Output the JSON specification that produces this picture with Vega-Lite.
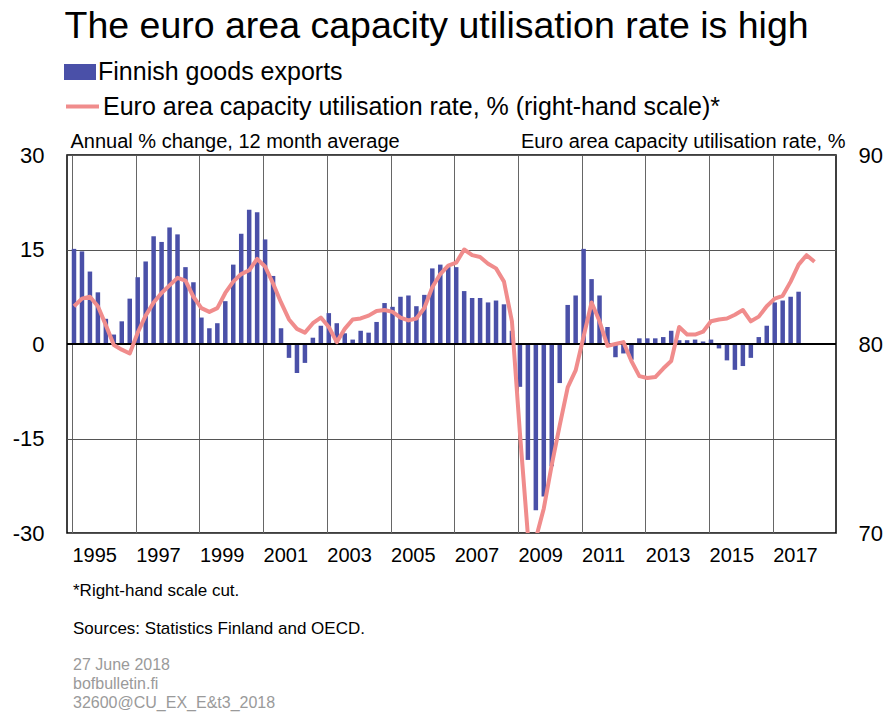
{
  "$schema": "https://vega.github.io/schema/vega-lite/v6.json",
  "autosize": {"type": "none"},
  "width": 769,
  "height": 378,
  "padding": {"left": 67, "top": 155, "right": 52, "bottom": 180},
  "background": "white",
  "config": {
    "font": "Liberation Sans",
    "view": {"stroke": "black", "strokeWidth": 1.5},
    "axis": {"labelColor": "black", "titleColor": "black", "labelFont": "Liberation Sans", "titleFont": "Liberation Sans", "titleFontWeight": "normal"},
    "legend": {"labelColor": "black", "labelFont": "Liberation Sans"}
  },
  "title": {
    "text": ["*Right-hand scale cut.", "Sources: Statistics Finland and OECD."],
    "subtitle": ["27 June 2018", "bofbulletin.fi", "32600@CU_EX_E&t3_2018"],
    "orient": "bottom",
    "anchor": "start",
    "frame": "group",
    "dx": 6,
    "offset": 18,
    "fontSize": 17,
    "fontWeight": "normal",
    "color": "black",
    "lineHeight": 38,
    "subtitleFontSize": 16,
    "subtitleColor": "#9a9a9a",
    "subtitleLineHeight": 19,
    "subtitlePadding": 19
  },
  "datasets": {
    "exports": [
      {"t": 1995.0, "v": 15.1}, {"t": 1995.25, "v": 14.7}, {"t": 1995.5, "v": 11.5}, {"t": 1995.75, "v": 8.2},
      {"t": 1996.0, "v": 4.0}, {"t": 1996.25, "v": 1.5}, {"t": 1996.5, "v": 3.6}, {"t": 1996.75, "v": 7.2},
      {"t": 1997.0, "v": 10.6}, {"t": 1997.25, "v": 13.1}, {"t": 1997.5, "v": 17.1}, {"t": 1997.75, "v": 16.2},
      {"t": 1998.0, "v": 18.5}, {"t": 1998.25, "v": 17.4}, {"t": 1998.5, "v": 12.2}, {"t": 1998.75, "v": 9.8},
      {"t": 1999.0, "v": 4.2}, {"t": 1999.25, "v": 2.5}, {"t": 1999.5, "v": 3.3}, {"t": 1999.75, "v": 6.8},
      {"t": 2000.0, "v": 12.6}, {"t": 2000.25, "v": 17.5}, {"t": 2000.5, "v": 21.3}, {"t": 2000.75, "v": 20.9},
      {"t": 2001.0, "v": 16.6}, {"t": 2001.25, "v": 10.8}, {"t": 2001.5, "v": 2.5}, {"t": 2001.75, "v": -2.2},
      {"t": 2002.0, "v": -4.6}, {"t": 2002.25, "v": -3.0}, {"t": 2002.5, "v": 1.0}, {"t": 2002.75, "v": 2.9},
      {"t": 2003.0, "v": 4.9}, {"t": 2003.25, "v": 3.3}, {"t": 2003.5, "v": 1.7}, {"t": 2003.75, "v": 0.7},
      {"t": 2004.0, "v": 2.1}, {"t": 2004.25, "v": 1.8}, {"t": 2004.5, "v": 3.5}, {"t": 2004.75, "v": 6.5},
      {"t": 2005.0, "v": 5.9}, {"t": 2005.25, "v": 7.5}, {"t": 2005.5, "v": 7.7}, {"t": 2005.75, "v": 6.0},
      {"t": 2006.0, "v": 7.8}, {"t": 2006.25, "v": 12.0}, {"t": 2006.5, "v": 12.6}, {"t": 2006.75, "v": 12.2},
      {"t": 2007.0, "v": 12.2}, {"t": 2007.25, "v": 8.4}, {"t": 2007.5, "v": 7.3}, {"t": 2007.75, "v": 7.3},
      {"t": 2008.0, "v": 6.6}, {"t": 2008.25, "v": 6.9}, {"t": 2008.5, "v": 6.3}, {"t": 2008.75, "v": 2.1},
      {"t": 2009.0, "v": -6.8}, {"t": 2009.25, "v": -18.4}, {"t": 2009.5, "v": -26.4}, {"t": 2009.75, "v": -24.2},
      {"t": 2010.0, "v": -19.4}, {"t": 2010.25, "v": -6.2}, {"t": 2010.5, "v": 6.2}, {"t": 2010.75, "v": 7.7},
      {"t": 2011.0, "v": 15.1}, {"t": 2011.25, "v": 10.3}, {"t": 2011.5, "v": 7.7}, {"t": 2011.75, "v": 2.7},
      {"t": 2012.0, "v": -2.1}, {"t": 2012.25, "v": -1.5}, {"t": 2012.5, "v": -2.5}, {"t": 2012.75, "v": 0.9},
      {"t": 2013.0, "v": 0.9}, {"t": 2013.25, "v": 0.9}, {"t": 2013.5, "v": 1.1}, {"t": 2013.75, "v": 2.1},
      {"t": 2014.0, "v": 0.6}, {"t": 2014.25, "v": 0.6}, {"t": 2014.5, "v": 0.7}, {"t": 2014.75, "v": 0.4},
      {"t": 2015.0, "v": 0.7}, {"t": 2015.25, "v": -0.7}, {"t": 2015.5, "v": -2.6}, {"t": 2015.75, "v": -4.1},
      {"t": 2016.0, "v": -3.5}, {"t": 2016.25, "v": -2.2}, {"t": 2016.5, "v": 1.1}, {"t": 2016.75, "v": 2.9},
      {"t": 2017.0, "v": 6.6}, {"t": 2017.25, "v": 6.9}, {"t": 2017.5, "v": 7.5}, {"t": 2017.75, "v": 8.3}
    ],
    "cu": [
      {"t": 1995.0, "v": 82.0}, {"t": 1995.25, "v": 82.4}, {"t": 1995.5, "v": 82.5}, {"t": 1995.75, "v": 82.0},
      {"t": 1996.0, "v": 81.0}, {"t": 1996.25, "v": 79.95}, {"t": 1996.5, "v": 79.7}, {"t": 1996.75, "v": 79.5},
      {"t": 1997.0, "v": 80.6}, {"t": 1997.25, "v": 81.5}, {"t": 1997.5, "v": 82.2}, {"t": 1997.75, "v": 82.7},
      {"t": 1998.0, "v": 83.1}, {"t": 1998.25, "v": 83.5}, {"t": 1998.5, "v": 83.35}, {"t": 1998.75, "v": 82.5},
      {"t": 1999.0, "v": 81.9}, {"t": 1999.25, "v": 81.7}, {"t": 1999.5, "v": 81.9}, {"t": 1999.75, "v": 82.7},
      {"t": 2000.0, "v": 83.3}, {"t": 2000.25, "v": 83.7}, {"t": 2000.5, "v": 83.9}, {"t": 2000.75, "v": 84.5},
      {"t": 2001.0, "v": 84.1}, {"t": 2001.25, "v": 83.2}, {"t": 2001.5, "v": 82.2}, {"t": 2001.75, "v": 81.3},
      {"t": 2002.0, "v": 80.8}, {"t": 2002.25, "v": 80.6}, {"t": 2002.5, "v": 81.1}, {"t": 2002.75, "v": 81.4},
      {"t": 2003.0, "v": 80.9}, {"t": 2003.25, "v": 80.1}, {"t": 2003.5, "v": 80.8}, {"t": 2003.75, "v": 81.3},
      {"t": 2004.0, "v": 81.35}, {"t": 2004.25, "v": 81.5}, {"t": 2004.5, "v": 81.75}, {"t": 2004.75, "v": 81.8},
      {"t": 2005.0, "v": 81.7}, {"t": 2005.25, "v": 81.4}, {"t": 2005.5, "v": 81.25}, {"t": 2005.75, "v": 81.35},
      {"t": 2006.0, "v": 81.9}, {"t": 2006.25, "v": 83.0}, {"t": 2006.5, "v": 83.7}, {"t": 2006.75, "v": 84.15},
      {"t": 2007.0, "v": 84.3}, {"t": 2007.25, "v": 85.0}, {"t": 2007.5, "v": 84.7}, {"t": 2007.75, "v": 84.6},
      {"t": 2008.0, "v": 84.25}, {"t": 2008.25, "v": 84.0}, {"t": 2008.5, "v": 83.3}, {"t": 2008.75, "v": 81.2},
      {"t": 2009.0, "v": 75.3}, {"t": 2009.25, "v": 69.9}, {"t": 2009.5, "v": 69.7}, {"t": 2009.75, "v": 71.3},
      {"t": 2010.0, "v": 73.6}, {"t": 2010.25, "v": 75.7}, {"t": 2010.5, "v": 77.7}, {"t": 2010.75, "v": 78.6},
      {"t": 2011.0, "v": 80.4}, {"t": 2011.25, "v": 82.2}, {"t": 2011.5, "v": 81.2}, {"t": 2011.75, "v": 79.9},
      {"t": 2012.0, "v": 80.0}, {"t": 2012.25, "v": 80.1}, {"t": 2012.5, "v": 79.1}, {"t": 2012.75, "v": 78.3},
      {"t": 2013.0, "v": 78.2}, {"t": 2013.25, "v": 78.25}, {"t": 2013.5, "v": 78.7}, {"t": 2013.75, "v": 79.1},
      {"t": 2014.0, "v": 80.9}, {"t": 2014.25, "v": 80.5}, {"t": 2014.5, "v": 80.5}, {"t": 2014.75, "v": 80.65},
      {"t": 2015.0, "v": 81.2}, {"t": 2015.25, "v": 81.3}, {"t": 2015.5, "v": 81.35}, {"t": 2015.75, "v": 81.55},
      {"t": 2016.0, "v": 81.8}, {"t": 2016.25, "v": 81.2}, {"t": 2016.5, "v": 81.45}, {"t": 2016.75, "v": 82.0},
      {"t": 2017.0, "v": 82.4}, {"t": 2017.25, "v": 82.55}, {"t": 2017.5, "v": 83.3}, {"t": 2017.75, "v": 84.2},
      {"t": 2018.0, "v": 84.7}, {"t": 2018.25, "v": 84.35}
    ]
  },
  "layer": [
    {
      "data": {"name": "exports"},
      "mark": {"type": "bar", "width": 4.5, "xOffset": 2},
      "encoding": {
        "x": {
          "field": "t", "type": "quantitative",
          "scale": {"domain": [1995, 2018.83], "nice": false, "zero": false},
          "axis": {
            "orient": "bottom", "values": [1995, 1997, 1999, 2001, 2003, 2005, 2007, 2009, 2011, 2013, 2015, 2017],
            "labelExpr": "'' + datum.value", "labelAlign": "left", "labelOffset": 0,
            "grid": true, "gridColor": "#666", "gridWidth": 1, "ticks": false, "domain": false,
            "labelFontSize": 20, "labelPadding": 12, "labelOverlap": false, "labelFlush": false, "title": null
          }
        },
        "y": {
          "field": "v", "type": "quantitative",
          "scale": {"domain": [-30, 30], "nice": false},
          "axis": {
            "orient": "left", "values": [-30, -15, 0, 15, 30], "labelExpr": "'' + datum.value",
            "grid": true, "gridColor": "#555", "gridWidth": 1,
            "domain": false, "ticks": false, "labelFontSize": 22, "labelPadding": 23,
            "title": "Annual % change, 12 month average", "titleAngle": 0, "titleAlign": "left",
            "titleBaseline": "alphabetic", "titleX": 3, "titleY": -8, "titleFontSize": 20
          }
        },
        "fill": {
          "datum": "Finnish goods exports",
          "scale": {"range": ["#4A50A8"]},
          "legend": {
            "title": null, "orient": "none", "legendX": -3, "legendY": -99, "padding": 0,
            "symbolType": "M-1,-0.5H1V0.5H-1Z", "symbolSize": 1024, "symbolStrokeWidth": 0,
            "labelFontSize": 25, "labelOffset": 2, "labelLimit": 0
          }
        }
      }
    },
    {
      "data": {"values": [{}]},
      "mark": {"type": "rule", "color": "black", "strokeWidth": 2},
      "encoding": {
        "y": {"datum": 0, "type": "quantitative", "scale": {"domain": [-30, 30], "nice": false}, "axis": null}
      }
    },
    {
      "data": {"name": "cu"},
      "mark": {"type": "line", "strokeWidth": 4, "clip": true, "xOffset": 2, "strokeJoin": "round"},
      "encoding": {
        "x": {
          "field": "t", "type": "quantitative",
          "scale": {"domain": [1995, 2018.83], "nice": false, "zero": false},
          "axis": {
            "orient": "top", "values": [1997], "grid": false, "labels": false, "ticks": false, "domain": false,
            "title": "The euro area capacity utilisation rate is high", "titleFontSize": 37.5,
            "titleAnchor": "start", "titleAlign": "left", "titleBaseline": "alphabetic", "titleX": -3, "titleY": -118
          }
        },
        "y": {
          "field": "v", "type": "quantitative",
          "scale": {"domain": [70, 90], "nice": false, "zero": false},
          "axis": {
            "orient": "right", "values": [70, 80, 90], "grid": false, "domain": false, "ticks": false,
            "labelFontSize": 22, "labelPadding": 22,
            "title": "Euro area capacity utilisation rate, %", "titleAngle": 0, "titleAlign": "right",
            "titleBaseline": "alphabetic", "titleX": 9, "titleY": -8, "titleFontSize": 20
          }
        },
        "stroke": {
          "datum": "Euro area capacity utilisation rate, % (right-hand scale)*",
          "scale": {"range": ["#F08C8C"]},
          "legend": {
            "title": null, "orient": "none", "legendX": -3, "legendY": -67, "padding": 0,
            "symbolType": "stroke", "symbolSize": 1089, "symbolStrokeWidth": 4,
            "labelFontSize": 25, "labelOffset": 2, "labelLimit": 0
          }
        }
      }
    }
  ],
  "resolve": {"scale": {"y": "independent"}, "axis": {"x": "independent"}}
}
